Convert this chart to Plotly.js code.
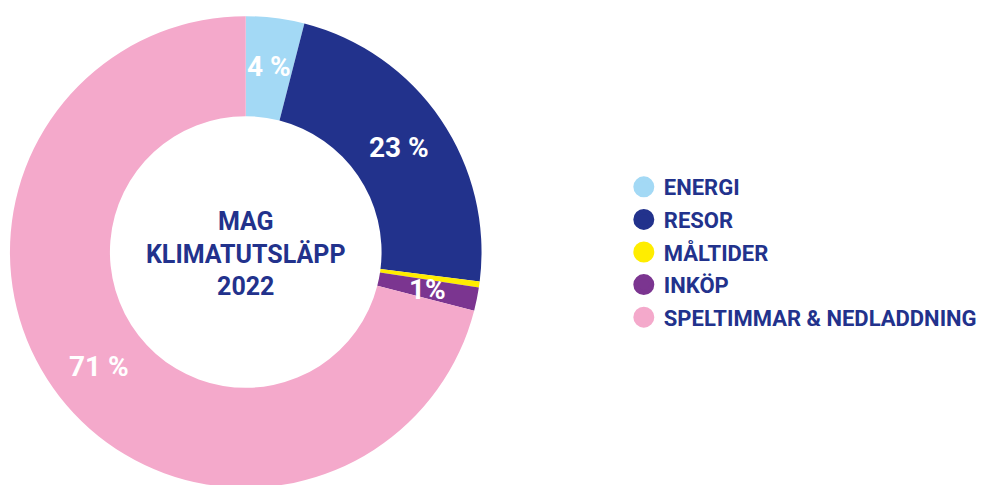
<!DOCTYPE html>
<html>
<head>
<meta charset="utf-8">
<script src="https://cdn.plot.ly/plotly-3.0.1.min.js"></script>
<style>
html,body{margin:0;padding:0;overflow:hidden;background:#fff;}
#chart{width:982px;height:500px;}
</style>
</head>
<body>
<div id="chart"></div>
<script>
// Data
var categories = ['ENERGI', 'RESOR', 'MÅLTIDER', 'INKÖP', 'SPELTIMMAR & NEDLADDNING'];
var shares = [4, 23, 0.4, 1.6, 71];
var sliceLabels = ['4 %', '23 %', '', '1%', '71 %'];
var colors = ['#A3D9F5', '#22328C', '#FFED00', '#7B3590', '#F4A9CB'];
var centerTitle = 'MAG<br>KLIMATUTSLÄPP<br>2022';

var NAVY = '#22328C';
var FONT = 'Roboto, "Open Sans", sans-serif';

var W = 982, H = 500;
var M = {l: 0, r: 0, t: 15, b: 11};
var HOLE = 0.576;
var domX = [10 / W, 484 / W];
var domY = [0, 1];

var traces = [{
  type: 'pie',
  values: shares,
  labels: categories,
  textinfo: 'none',
  sort: false,
  direction: 'clockwise',
  rotation: 0,
  hole: HOLE,
  marker: {colors: colors, line: {width: 0}},
  title: {text: centerTitle, position: 'middle center', font: {family: FONT, size: 25, color: NAVY, weight: 'bold'}},
  showlegend: false,
  domain: {x: domX, y: domY},
  hoverinfo: 'label+percent'
}];

categories.forEach(function (c, i) {
  traces.push({
    type: 'scatter', mode: 'markers',
    x: [null], y: [null],
    name: c,
    legendgroup: 'g' + i,
    marker: {symbol: 'circle', size: 16, color: colors[i], line: {width: 5, color: colors[i]}},
    showlegend: true
  });
});

// Slice labels placed at each slice's mid-angle, mid-ring radius (derived from the data)
var plotW = W - M.l - M.r, plotH = H - M.t - M.b;
var domWpx = (domX[1] - domX[0]) * plotW, domHpx = (domY[1] - domY[0]) * plotH;
var R = Math.min(domWpx, domHpx) / 2;
var cxP = (domX[0] + domX[1]) / 2, cyP = (domY[0] + domY[1]) / 2;
var rMid = R * (1 + HOLE) / 2;
var total = shares.reduce(function (a, b) { return a + b; }, 0);
var annotations = [];
var cum = 0;
shares.forEach(function (v, i) {
  var mid = (cum + v / 2) / total;
  cum += v;
  if (!sliceLabels[i]) return;
  var ang = mid * 2 * Math.PI; // clockwise from 12 o'clock
  annotations.push({
    xref: 'paper', yref: 'paper',
    x: cxP + rMid * Math.sin(ang) / plotW,
    y: cyP + rMid * Math.cos(ang) / plotH,
    xanchor: 'center', yanchor: 'middle',
    text: sliceLabels[i], showarrow: false,
    font: {family: FONT, size: 28, color: '#ffffff', weight: 'bold'}
  });
});

var layout = {
  width: W, height: H,
  margin: M,
  paper_bgcolor: '#ffffff', plot_bgcolor: '#ffffff',
  xaxis: {visible: false}, yaxis: {visible: false},
  showlegend: true,
  annotations: annotations,
  legend: {
    x: 0.6385, xanchor: 'left', y: 0.5, yanchor: 'middle',
    font: {family: FONT, size: 22, color: NAVY, weight: 'bold'},
    tracegroupgap: 1,
    bgcolor: 'rgba(0,0,0,0)'
  }
};

Plotly.newPlot('chart', traces, layout, {displayModeBar: false, staticPlot: true});
</script>
</body>
</html>
